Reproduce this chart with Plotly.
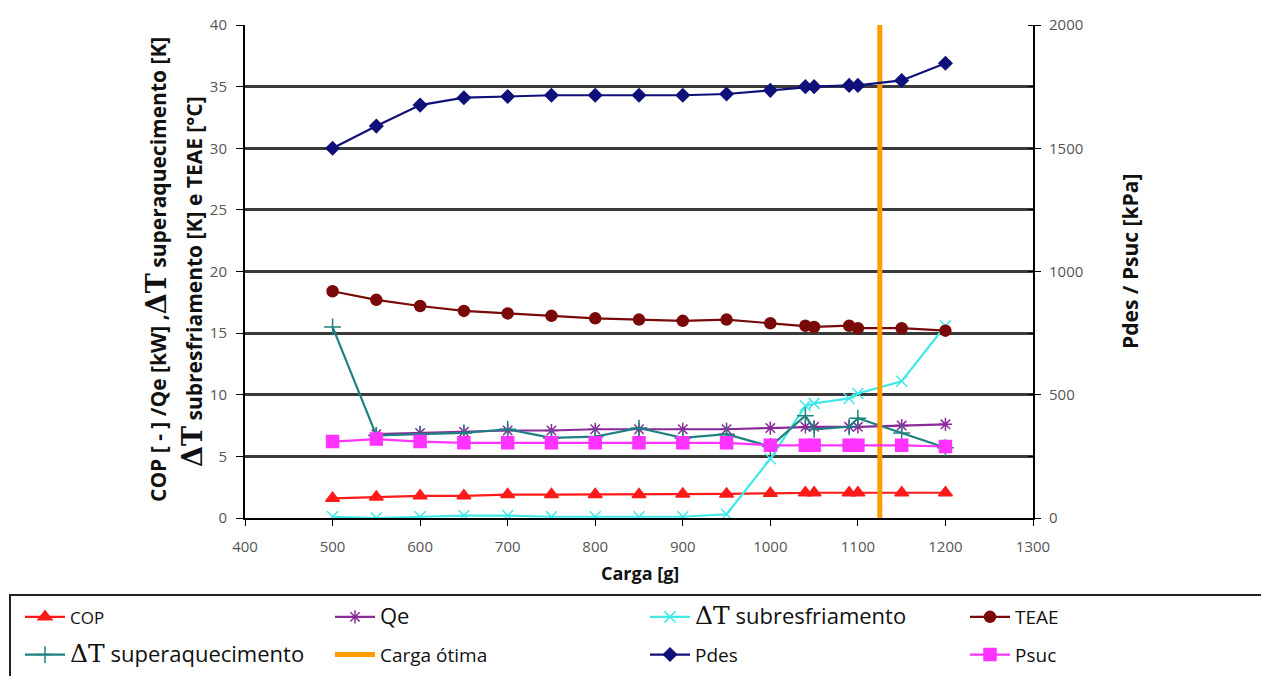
import plotly.graph_objects as go

carga = [500, 550, 600, 650, 700, 750, 800, 850, 900, 950, 1000, 1040, 1050, 1090, 1100, 1150, 1200]
cop = [1.6, 1.7, 1.8, 1.8, 1.9, 1.9, 1.9, 1.9, 1.95, 1.95, 2.0, 2.05, 2.05, 2.05, 2.05, 2.05, 2.05]
qe = [None, 6.8, 6.9, 7.0, 7.1, 7.1, 7.2, 7.2, 7.2, 7.2, 7.3, 7.4, 7.4, 7.4, 7.4, 7.5, 7.6]
dt_sub = [0.1, 0.0, 0.1, 0.2, 0.2, 0.1, 0.1, 0.1, 0.1, 0.3, 4.8, 9.1, 9.3, 9.7, 10.1, 11.1, 15.6]
teae = [18.4, 17.7, 17.2, 16.8, 16.6, 16.4, 16.2, 16.1, 16.0, 16.1, 15.8, 15.6, 15.5, 15.6, 15.4, 15.4, 15.2]
dt_super = [15.5, 6.7, 6.8, 6.9, 7.2, 6.5, 6.6, 7.3, 6.5, 6.8, 5.8, 8.3, 7.2, 7.4, 8.1, 6.9, 5.7]
pdes = [1500, 1590, 1675, 1705, 1710, 1715, 1715, 1715, 1715, 1720, 1735, 1750, 1750, 1755, 1755, 1775, 1845]
psuc = [310, 320, 310, 305, 305, 305, 305, 305, 305, 305, 295, 295, 295, 295, 295, 295, 290]
carga_otima = 1125

DT = '<span style="font-family:DejaVu Serif;font-size:25px">ΔT</span>'
DTL = '<span style="font-family:DejaVu Serif;font-size:27px">ΔT</span>'

def big(s):
    return '<span style="font-size:22px">' + s + '</span>'

fig = go.Figure()

def add(name, gid, y, color, symbol, size, legend, axis="y", lw=2.2):
    fig.add_trace(go.Scatter(
        x=carga, y=y, name=name, yaxis=axis, mode="lines+markers",
        legend=legend, legendgroup=gid,
        line=dict(color=color, width=lw),
        marker=dict(symbol=symbol, size=size, color=color,
                    line=dict(color=color, width=1.5)),
        connectgaps=False))

add('<span style="font-size:17px">COP</span>', "g_cop", cop, "#FF1A1A", "triangle-up", 12, "legend")
add(big("Qe"), "g_qe", qe, "#8B2A9B", "asterisk-open", 11, "legend2")
add(DT + big(" subresfriamento"), "g_sub", dt_sub, "#40E8E8", "x-thin-open", 11, "legend3")
add("TEAE", "g_teae", teae, "#7A0A0A", "circle", 11, "legend4")
add(DT + big(" superaquecimento"), "g_super", dt_super, "#1E8080", "cross-thin-open", 12, "legend")
fig.add_trace(go.Scatter(x=[carga_otima, carga_otima], y=[0, 40], name="Carga ótima",
                         legend="legend2", legendgroup="g_co",
                         mode="lines", line=dict(color="#FF9C00", width=5)))
add("Pdes", "g_pdes", pdes, "#10107A", "diamond", 10, "legend3", axis="y2")
add("Psuc", "g_psuc", psuc, "#FF33FF", "square", 12, "legend4", axis="y2")

tickfont = dict(family="Open Sans", size=15, color="#555555")
titlefont = dict(family="Open Sans", size=18, color="#111111", weight="bold")
ytitlefont = dict(family="Open Sans", size=21, color="#111111", weight="bold")

W, H = 1269, 676
L, R, T, B = 237, 244, 17, 166
pw, ph = W - L - R, H - T - B
plot_bottom = H - B

def px_x(v):
    return (v - L) / pw

def px_y(v):
    return (plot_bottom - v) / ph

def leg(xpx):
    return dict(orientation="v", xref="container", yref="container",
                x=xpx / W, y=1 - 590 / H, xanchor="left", yanchor="top",
                bgcolor="rgba(0,0,0,0)", borderwidth=0,
                font=dict(family="Open Sans", size=19, color="#111111"),
                itemwidth=40, tracegroupgap=10)

fig.update_layout(
    width=W, height=H,
    paper_bgcolor="white", plot_bgcolor="white",
    margin=dict(l=L, r=R, t=T, b=B, autoexpand=False),
    showlegend=True,
    xaxis=dict(range=[400, 1300], dtick=100, tick0=400, showgrid=False,
               showline=True, linecolor="black", linewidth=2,
               ticks="outside", ticklen=6, tickcolor="black",
               tickfont=tickfont, zeroline=False, automargin=False,
               ticklabelstandoff=8),
    yaxis=dict(range=[0, 40], dtick=5, showgrid=True, gridcolor="#3a3a3a", gridwidth=2.5,
               showline=True, linecolor="black", linewidth=2,
               ticks="outside", ticklen=7, tickcolor="black",
               tickfont=tickfont, zeroline=False, automargin=False,
               ticklabelstandoff=6),
    yaxis2=dict(range=[0, 2000], dtick=500, overlaying="y", side="right",
                showgrid=False, showline=True, linecolor="black", linewidth=2,
                ticks="outside", ticklen=6, tickcolor="black",
                minor=dict(ticks="inside", dtick=250, ticklen=5, tickcolor="black"),
                tickfont=tickfont, zeroline=False, automargin=False,
                ticklabelstandoff=5),
    legend=leg(12),
    legend2=leg(322),
    legend3=leg(637),
    legend4=leg(957),
    annotations=[
        dict(xref="paper", yref="paper", x=px_x(148), y=px_y(262),
             xanchor="center", yanchor="middle", textangle=-90, showarrow=False,
             text="COP [ - ] /Qe [kW] ," + DTL + " superaquecimento [K]", font=ytitlefont),
        dict(xref="paper", yref="paper", x=px_x(184), y=px_y(274),
             xanchor="center", yanchor="middle", textangle=-90, showarrow=False,
             text=DTL + " subresfriamento [K] e TEAE [°C]", font=ytitlefont),
        dict(xref="paper", yref="paper", x=px_x(1122), y=px_y(254),
             xanchor="center", yanchor="middle", textangle=-90, showarrow=False,
             text="Pdes / Psuc [kPa]", font=dict(family="Open Sans", size=21, color="#111111", weight="bold")),
        dict(xref="paper", yref="paper", x=px_x(632), y=px_y(565),
             xanchor="center", yanchor="middle", showarrow=False,
             text="Carga [g]", font=titlefont),
    ],
    shapes=[dict(type="rect", xref="paper", yref="paper",
                 x0=px_x(2), x1=px_x(1254),
                 y0=px_y(700), y1=px_y(587),
                 line=dict(color="#222222", width=2), fillcolor="rgba(0,0,0,0)", layer="below")],
)

fig.write_html("out.html")
